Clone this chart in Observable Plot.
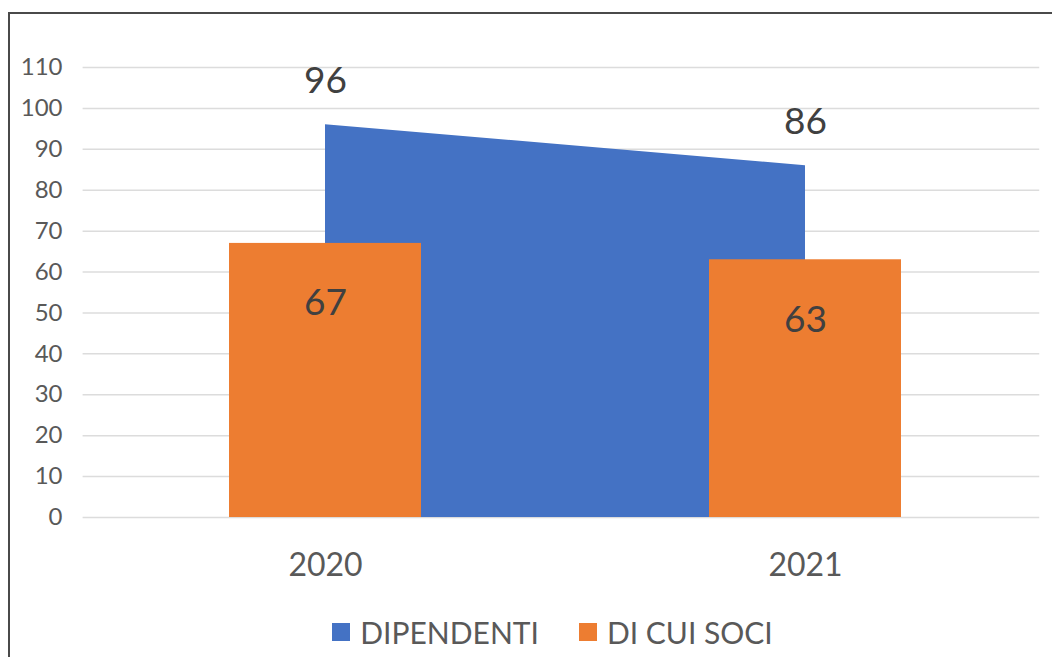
<!DOCTYPE html>
<html>
<head>
<meta charset="utf-8">
<script src="https://cdn.jsdelivr.net/npm/d3@7"></script>
<script src="https://cdn.jsdelivr.net/npm/@observablehq/plot@0.6"></script>
<style>
  html, body { margin: 0; padding: 0; background: #fff; width: 1052px; height: 657px; overflow: hidden; position: relative; font-family: Lato, "Open Sans", sans-serif; }
  #frame { position: absolute; left: 8px; top: 12px; width: 1100px; height: 700px; border: 2px solid #4a4a4a; box-sizing: border-box; pointer-events: none; }
  #chart { position: absolute; left: 0; top: 0; }
  #legend { position: absolute; top: 612px; left: 0; width: 1105px; display: flex; justify-content: center; gap: 40px; font-size: 30px; color: #595959; line-height: 40px; }
  .item { display: flex; align-items: center; gap: 10px; }
  .sw { width: 18px; height: 18px; display: inline-block; }
</style>
</head>
<body>
<div id="chart"></div>
<div id="legend"></div>
<div id="frame"></div>
<script>
const years = [2020, 2021];
const dipendenti = [96, 86];
const soci = [67, 63];
const seriesNames = ["DIPENDENTI", "DI CUI SOCI"];
const colors = ["#4472C4", "#ED7D31"];
const yTicks = [0, 10, 20, 30, 40, 50, 60, 70, 80, 90, 100, 110];

const dataD = years.map((y, i) => ({year: y, value: dipendenti[i]}));
const dataS = years.map((y, i) => ({year: y, value: soci[i]}));

const chart = Plot.plot({
  width: 1052,
  height: 600,
  marginLeft: 85,
  marginRight: 7,
  marginTop: 67,
  marginBottom: 83,
  style: {fontFamily: "Lato, 'Open Sans', sans-serif", background: "transparent"},
  x: {domain: [2019.5, 2021.5], ticks: years, tickFormat: d => String(d), label: null},
  y: {domain: [0, 110], ticks: yTicks, label: null},
  marks: [
    Plot.gridY(yTicks, {stroke: "#dcdcdc", strokeOpacity: 1, strokeWidth: 1.5, x1: 2019.5 - 0.005, x2: 2021.5 - 0.012}),
    Plot.areaY(dataD, {x: "year", y: "value", fill: colors[0]}),
    Plot.rectY(dataS, {x1: d => d.year - 0.2, x2: d => d.year + 0.2, y1: 0, y2: "value", fill: colors[1]}),
    Plot.text(dataD, {x: "year", y: "value", text: d => String(d.value), dy: -44, fontSize: 37, fill: "#404040"}),
    Plot.text(dataS, {x: "year", y: "value", text: d => String(d.value), dy: 60, fontSize: 37, fill: "#404040"}),
    Plot.axisX({ticks: years, tickFormat: d => String(d), tickSize: 0, tickPadding: 36, fontSize: 32, fill: "#595959"}),
    Plot.axisY({ticks: yTicks, tickSize: 0, tickPadding: 23, fontSize: 24, fill: "#595959"})
  ]
});
document.getElementById("chart").appendChild(chart);

const legend = document.getElementById("legend");
seriesNames.forEach((n, i) => {
  const it = document.createElement("div");
  it.className = "item";
  const sw = document.createElement("span");
  sw.className = "sw";
  sw.style.background = colors[i];
  const t = document.createElement("span");
  t.textContent = n;
  it.appendChild(sw); it.appendChild(t);
  legend.appendChild(it);
});
</script>
</body>
</html>
